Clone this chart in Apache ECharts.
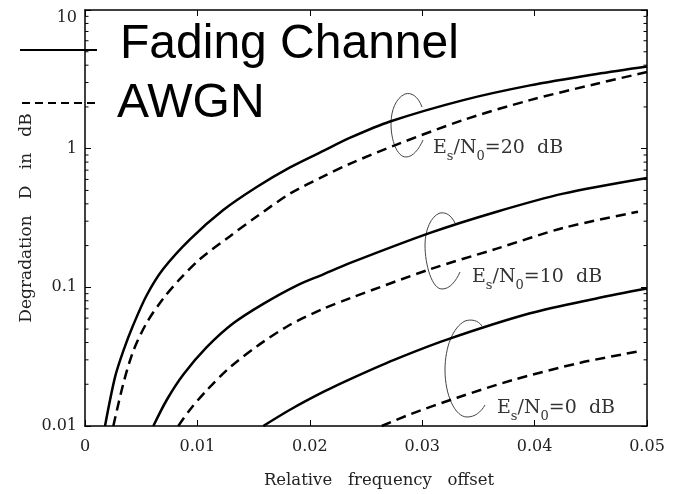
<!DOCTYPE html>
<html><head><meta charset="utf-8">
<script src="https://cdn.jsdelivr.net/npm/echarts@6/dist/echarts.min.js"></script>
<style>html,body{margin:0;padding:0;background:#fff}#c{width:679px;height:494px}</style>
</head><body><div id="c"></div>
<script>
// Relative frequency offset vs degradation D (dB)
const fading20 = [[0.00178,0.01],[0.00267,0.0225],[0.00341,0.0348],[0.0043,0.0537],[0.00549,0.0877],[0.00697,0.136],[0.00934,0.222],[0.0123,0.361],[0.01528,0.529],[0.01824,0.733],[0.0212,0.964],[0.0236,1.2],[0.02714,1.57],[0.03366,2.24],[0.03959,2.86],[0.04553,3.46],[0.05,3.92]];
const awgn20 = [[0.00252,0.01],[0.00341,0.0202],[0.0043,0.0348],[0.00549,0.0555],[0.00697,0.0832],[0.00845,0.115],[0.01023,0.16],[0.0129,0.234],[0.01528,0.324],[0.01824,0.474],[0.0212,0.63],[0.0236,0.78],[0.02773,1.07],[0.03366,1.61],[0.03959,2.24],[0.04553,2.94],[0.05,3.57]];
const fading10 = [[0.00608,0.01],[0.00727,0.0154],[0.00875,0.0235],[0.01083,0.037],[0.01319,0.055],[0.01586,0.076],[0.01883,0.103],[0.0212,0.124],[0.0236,0.15],[0.0307,0.247],[0.03663,0.351],[0.04255,0.474],[0.05,0.615]];
const awgn10 = [[0.0083,0.01],[0.00934,0.0131],[0.01083,0.0181],[0.0129,0.0265],[0.01528,0.0375],[0.01824,0.0537],[0.0212,0.07],[0.0236,0.0835],[0.0307,0.135],[0.03663,0.19],[0.04255,0.268],[0.0492,0.351]];
const fading0 = [[0.01586,0.01],[0.01824,0.0131],[0.0212,0.0176],[0.0236,0.0218],[0.0275,0.03],[0.0322,0.042],[0.0396,0.065],[0.0455,0.0832],[0.05,0.098]];
const awgn0 = [[0.0264,0.01],[0.029,0.0122],[0.0331,0.016],[0.0381,0.0215],[0.044,0.0285],[0.0495,0.0348]];
const yMinorTicks = [0.02,0.03,0.04,0.05,0.06,0.07,0.08,0.09,0.2,0.3,0.4,0.5,0.6,0.7,0.8,0.9,2,3,4,5,6,7,8,9];
const xTickLabels = ['0','0.01','0.02','0.03','0.04','0.05'];
const yTickLabels = ['0.01','0.1','1','10'];
const legendNames = ['Fading Channel','AWGN'];
const snrLabels = ['20','10','0'];

const serif = 'DejaVu Serif';
const chart = echarts.init(document.getElementById('c'), null, {renderer:'canvas'});

function xFmt(v){ const i = Math.round(v/0.01); return xTickLabels[i] !== undefined ? xTickLabels[i] : ''; }
function yFmt(v){ const i = Math.round(Math.log10(v)) + 2; return yTickLabels[i] !== undefined ? yTickLabels[i] : ''; }

const axisLine = {show:true,onZero:false,lineStyle:{color:'#000',width:1.5}};
const tick = {show:true,inside:true,length:6,lineStyle:{color:'#000',width:1}};

function lineSeries(name, data, dashed){
  return {type:'line', name, data, showSymbol:false, smooth:0.3, silent:true,
    lineStyle:{color:'#000', width:2.5, type: dashed ? [10,6] : 'solid'}, z:3};
}

function annot(x, yTop, snr){
  return {type:'text', x:x, y:yTop, silent:true, style:{
    text:'{m|E}{s|s}{m|/N}{s|0}{m|=' + snr + '  dB}',
    rich:{
      m:{fontFamily:serif,fontSize:19,lineHeight:20,verticalAlign:'top',fill:'#333'},
      s:{fontFamily:serif,fontSize:13,lineHeight:12,padding:[11,0,0,0],verticalAlign:'top',fill:'#333'}
    }
  }};
}

const ellipseStyle = {stroke:'#444', lineWidth:1, fill:null};
function bez(p){ // p: [x1,y1,cpx1,cpy1,cpx2,cpy2,x2,y2]
  return {type:'bezierCurve', silent:true, shape:{x1:p[0],y1:p[1],cpx1:p[2],cpy1:p[3],cpx2:p[4],cpy2:p[5],x2:p[6],y2:p[7]}, style:ellipseStyle};
}
const ellipses = [
  [422,107,418,96,411,92,405,94],[405,94,396,98,391,110,391,124],[391,124,391,140,397,157,406,157],[406,157,413,157,419,149,423,140],
  [455,223,451,215,446,212,440,213],[440,213,431,216,425,230,425,245],[425,245,425,265,432,289,442,289],[442,289,450,289,456,281,460,272],
  [482,326,478,320,471,319,465,321],[465,321,453,327,445,347,445,370],[445,370,445,395,455,417,467,417],[467,417,475,417,481,412,485,405]
].map(bez);

const option = {
  animation:false,
  backgroundColor:'#fff',
  grid:{left:85,right:32,top:10,bottom:61,show:false},
  xAxis:[
    {type:'value',min:0,max:0.05,interval:0.01,position:'bottom',axisLine,axisTick:tick,
     axisLabel:{fontFamily:serif,fontSize:16,color:'#222',margin:13,formatter:xFmt},
     splitLine:{show:false},
     name:'Relative   frequency   offset',nameLocation:'middle',nameGap:46,nameMoveOverlap:false,
     nameTextStyle:{fontFamily:serif,fontSize:16.5,color:'#222',padding:[0,0,0,26]}},
    {type:'value',min:0,max:0.05,interval:0.01,position:'top',axisLine,axisTick:tick,
     axisLabel:{show:false},splitLine:{show:false}}
  ],
  yAxis:[
    {type:'log',logBase:10,min:0.01,max:10,position:'left',axisLine,axisTick:tick,
     axisLabel:{fontFamily:serif,fontSize:16,color:'#222',margin:8,formatter:yFmt,verticalAlignMaxLabel:'top'},
     splitLine:{show:false},
     name:'Degradation   D   in   dB',nameLocation:'middle',nameGap:50,nameRotate:90,nameMoveOverlap:false,
     nameTextStyle:{fontFamily:serif,fontSize:17,color:'#222'}},
    {type:'log',logBase:10,min:0.01,max:10,position:'right',axisLine,axisTick:tick,
     axisLabel:{show:false},splitLine:{show:false}}
  ],
  series:[
    lineSeries(legendNames[0]+' 20', fading20, false),
    lineSeries(legendNames[1]+' 20', awgn20, true),
    lineSeries(legendNames[0]+' 10', fading10, false),
    lineSeries(legendNames[1]+' 10', awgn10, true),
    lineSeries(legendNames[0]+' 0', fading0, false),
    lineSeries(legendNames[1]+' 0', awgn0, true),
    {type:'custom', silent:true, xAxisIndex:0, yAxisIndex:0, clip:false,
     data: yMinorTicks.map(v => [0, v]), encode:{x:0,y:1},
     renderItem:(params, api) => {
       const v = api.value(1);
       const l = api.coord([0, v]);
       const r = api.coord([0.05, v]);
       return {type:'group', children:[
         {type:'line', shape:{x1:l[0], y1:l[1], x2:l[0]+3.5, y2:l[1]}, style:{stroke:'#000', lineWidth:1}},
         {type:'line', shape:{x1:r[0]-3.5, y1:r[1], x2:r[0], y2:r[1]}, style:{stroke:'#000', lineWidth:1}}
       ]};
     }}
  ],
  graphic:[
    {type:'line', silent:true, shape:{x1:20,y1:50,x2:97,y2:50}, style:{stroke:'#000',lineWidth:2}},
    {type:'line', silent:true, shape:{x1:22,y1:103,x2:100,y2:103}, style:{stroke:'#000',lineWidth:2,lineDash:[8,5]}},
    {type:'text', silent:true, x:120, y:45, style:{text:legendNames[0], fontFamily:'Liberation Sans', fontSize:48, fill:'#000', verticalAlign:'middle', align:'left'}},
    {type:'text', silent:true, x:117, y:104, style:{text:legendNames[1], fontFamily:'Liberation Sans', fontSize:48, fill:'#000', verticalAlign:'middle', align:'left'}},
    ...ellipses,
    annot(433, 139, snrLabels[0]),
    annot(472, 268, snrLabels[1]),
    annot(497, 399, snrLabels[2])
  ]
};
chart.setOption(option);
</script>
</body></html>
